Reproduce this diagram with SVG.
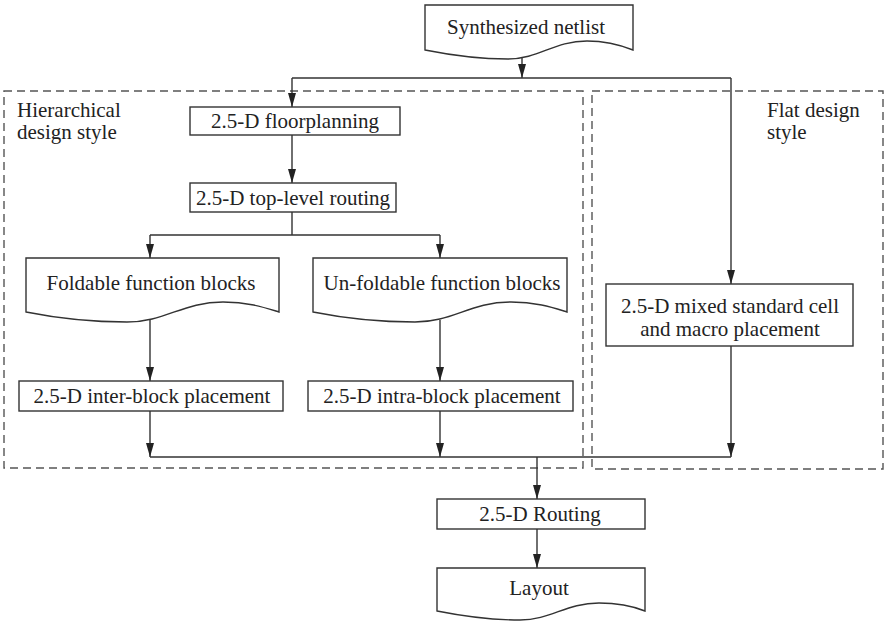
<svg xmlns="http://www.w3.org/2000/svg" width="885" height="621" viewBox="0 0 885 621">
  <style>
    .box { fill: #fff; stroke: #333; stroke-width: 1.4; }
    .zone { fill: none; stroke: #555; stroke-width: 1.4; stroke-dasharray: 8 5; }
    .wire { fill: none; stroke: #333; stroke-width: 1.4; }
    .arr { marker-end: url(#head); }
    text { font-family: 'Liberation Serif', 'Times New Roman', Times, 'DejaVu Serif', serif; font-size: 21px; fill: #222; }
    .c { text-anchor: middle; }
  </style>
  <defs>
    <marker id="head" markerWidth="14" markerHeight="8" refX="14" refY="4" orient="auto" markerUnits="userSpaceOnUse">
      <path d="M0,0 L14,4 L0,8 Z" fill="#222"/>
    </marker>
  </defs>
  <rect width="885" height="621" fill="#fff"/>

  <!-- design-style regions -->
  <g id="zones">
    <rect class="zone" x="4" y="91" width="579" height="377"/>
    <rect class="zone" x="592" y="91" width="291" height="378"/>
    <text x="17" y="117">Hierarchical</text>
    <text x="17" y="139">design style</text>
    <text x="767" y="117">Flat design</text>
    <text x="767" y="139">style</text>
  </g>

  <!-- connectors -->
  <g id="connectors">
    <path class="wire arr" d="M522,58 V78"/>
    <path class="wire" d="M292,78 H731"/>
    <path class="wire arr" d="M292,78 V107"/>
    <path class="wire arr" d="M731,78 V284"/>
    <path class="wire arr" d="M292,135 V183"/>
    <path class="wire" d="M292,212 V235 M150,235 H440"/>
    <path class="wire arr" d="M150,235 V258"/>
    <path class="wire arr" d="M440,235 V258"/>
    <path class="wire arr" d="M150,319 V381"/>
    <path class="wire arr" d="M440,320 V381"/>
    <path class="wire arr" d="M150,411 V457"/>
    <path class="wire arr" d="M440,411 V457"/>
    <path class="wire arr" d="M731,346 V457"/>
    <path class="wire" d="M150,457 H731"/>
    <path class="wire arr" d="M537,457 V499"/>
    <path class="wire arr" d="M537,529 V568"/>
  </g>

  <g id="netlist">
    <path class="box" d="M633,5 H425 V50 C450,55 477,59 508,59 C539,59 554,41 587,41 C608,41 623,46 633,50 Z"/>
    <text class="c" x="526" y="34">Synthesized netlist</text>
  </g>

  <g id="floorplanning">
    <rect class="box" x="190" y="107" width="210" height="28"/>
    <text class="c" x="295" y="128">2.5-D floorplanning</text>
  </g>

  <g id="top-routing">
    <rect class="box" x="190" y="183" width="206" height="29"/>
    <text class="c" x="293" y="205">2.5-D top-level routing</text>
  </g>

  <g id="foldable">
    <path class="box" d="M279,258 H26 V312 C56,318 89,322 127,322 C165,322 183,302 223,302 C249,302 266,308 279,312 Z"/>
    <text class="c" x="151" y="290">Foldable function blocks</text>
  </g>

  <g id="unfoldable">
    <path class="box" d="M567,258 H313 V312 C343,318 377,322 415,322 C453,322 470,302 511,302 C537,302 554,308 567,312 Z"/>
    <text class="c" x="442" y="290">Un-foldable function blocks</text>
  </g>

  <g id="inter-block">
    <rect class="box" x="19" y="381" width="264" height="30"/>
    <text class="c" x="152" y="403">2.5-D inter-block placement</text>
  </g>

  <g id="intra-block">
    <rect class="box" x="308" y="381" width="265" height="30"/>
    <text class="c" x="442" y="403">2.5-D intra-block placement</text>
  </g>

  <g id="mixed-placement">
    <rect class="box" x="606" y="284" width="247" height="62"/>
    <text class="c" x="730" y="313">2.5-D mixed standard cell</text>
    <text class="c" x="730" y="336">and macro placement</text>
  </g>

  <g id="routing">
    <rect class="box" x="437" y="499" width="208" height="30"/>
    <text class="c" x="540" y="521">2.5-D Routing</text>
  </g>

  <g id="layout">
    <path class="box" d="M645,568 H437 V611 C462,616 489,620 520,620 C551,620 566,603 599,603 C620,603 635,607 645,611 Z"/>
    <text class="c" x="539" y="595">Layout</text>
  </g>
</svg>
